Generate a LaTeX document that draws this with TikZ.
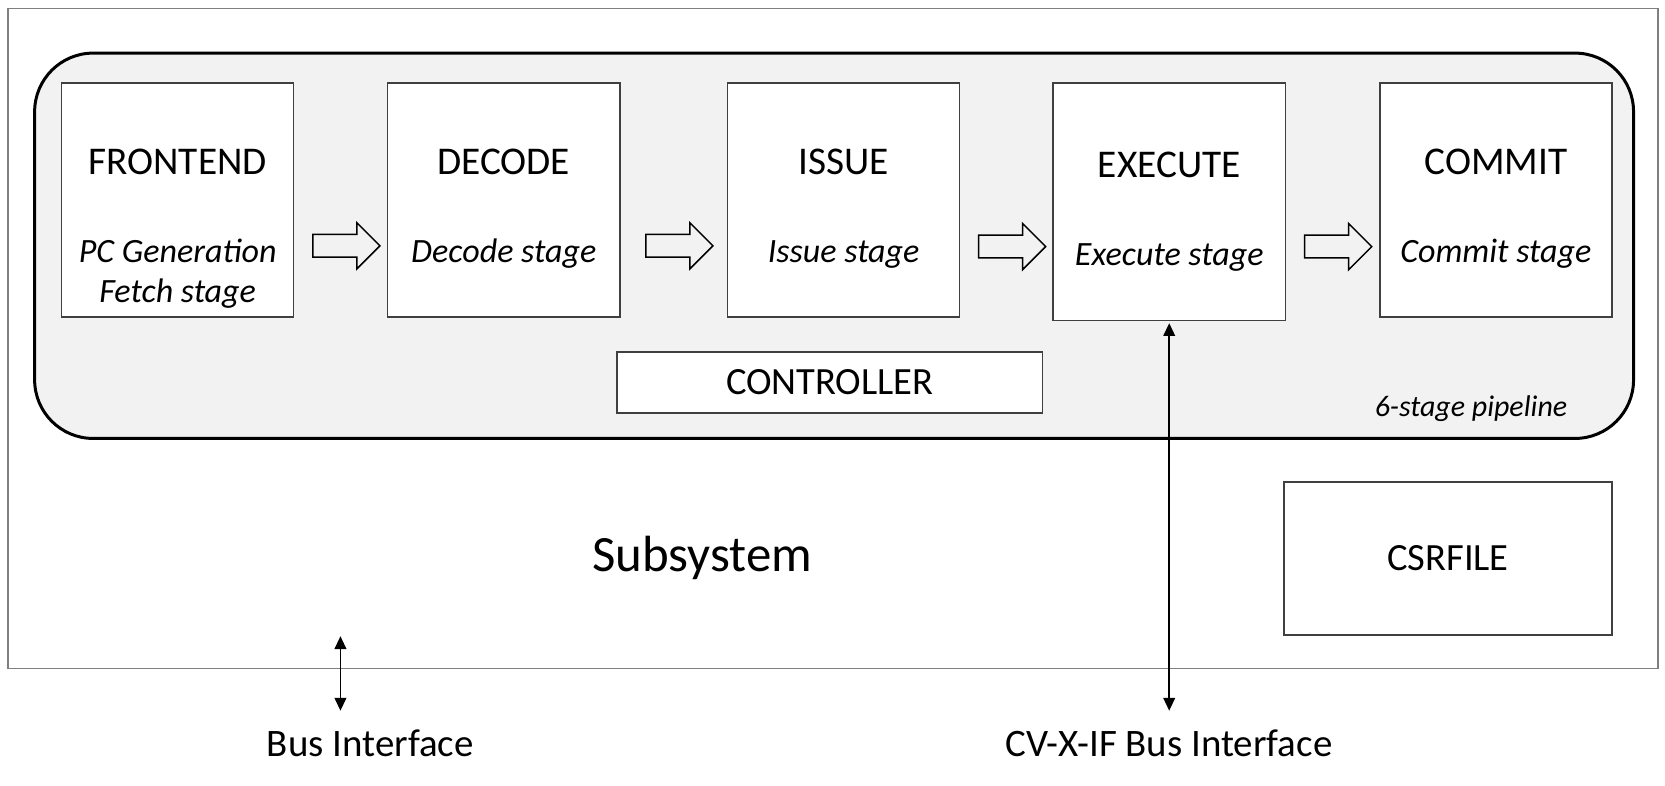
\documentclass[tikz,border=0pt]{standalone}
\usepackage{fontspec}
\setmainfont{Carlito}
\usepackage{tikz}
\usetikzlibrary{positioning,calc,shapes.arrows,arrows.meta}
\definecolor{pipefill}{HTML}{F2F2F2}
\definecolor{boxline}{HTML}{404040}
\definecolor{frameline}{HTML}{7F7F7F}
\tikzset{
  stagebox/.style={draw=boxline, fill=white, inner sep=0pt, minimum width=2.18cm, minimum height=2.2cm},
  stagename/.style={anchor=base, inner sep=0pt, font=\fontsize{10.5}{12}\selectfont},
  stagetext/.style={anchor=base, inner sep=0pt, align=center, font=\fontsize{9.1}{10.8}\selectfont\itshape},
  flow/.style={single arrow, draw=black, fill=pipefill, inner sep=0.1cm, single arrow head extend=0.11cm, minimum height=0.63cm},
  bus/.style={{Triangle[length=0.12cm,width=0.11cm]}-{Triangle[length=0.12cm,width=0.11cm]}, black, line width=0.4pt},
  buslabel/.style={anchor=base, inner sep=0pt, font=\fontsize{10.4}{12}\selectfont}
}

\begin{document}
\begin{tikzpicture}[x=0.01cm, y=-0.01cm]
\useasboundingbox (0,0) rectangle (1565,738);

\node (subsystem) [draw=frameline, fill=white, minimum width=15.5cm, minimum height=6.2cm] at (783,318) {};
\node (pipeline) [draw=black, line width=0.8pt, fill=pipefill, rounded corners=0.55cm, minimum width=15.02cm, minimum height=3.62cm] at (784,231) {};

\node (frontend) [stagebox] at (167,188) {};
\node (decode) [stagebox] at (473.5,188) {};
\node (issue) [stagebox] at (793,188) {};
\node (execute) [stagebox, minimum height=2.23cm] at (1099,189.5) {};
\node (commit) [stagebox] at (1406,188) {};

\node [stagename] at ([yshift=1.345cm]frontend.south) {FRONTEND};
\node [stagetext] at ([yshift=0.14cm]frontend.south) {PC Generation\\Fetch stage};
\node [stagename] at ([yshift=1.345cm]decode.south) {DECODE};
\node [stagetext] at ([yshift=0.52cm]decode.south) {Decode stage};
\node [stagename] at ([yshift=1.345cm]issue.south) {ISSUE};
\node [stagetext] at ([yshift=0.52cm]issue.south) {Issue stage};
\node [stagename] at ([yshift=1.345cm]execute.south) {EXECUTE};
\node [stagetext] at ([yshift=0.52cm]execute.south) {Execute stage};
\node [stagename] at ([yshift=1.345cm]commit.south) {COMMIT};
\node [stagetext] at ([yshift=0.52cm]commit.south) {Commit stage};

\node (flow1) [flow] at ([yshift=-0.43cm]$(frontend.east)!0.5!(decode.west)$) {};
\node (flow2) [flow] at ([yshift=-0.43cm]$(decode.east)!0.5!(issue.west)$) {};
\node (flow3) [flow] at ([yshift=-0.43cm]$(issue.east)!0.5!(execute.west)$) {};
\node (flow4) [flow] at ([yshift=-0.43cm]$(execute.east)!0.5!(commit.west)$) {};

\node (controller) [draw=boxline, fill=white, minimum width=4cm, minimum height=0.57cm, font=\fontsize{10.3}{12}\selectfont] at (780,359.5) {CONTROLLER};
\node (csrfile) [draw=boxline, fill=white, minimum width=3.08cm, minimum height=1.44cm, font=\fontsize{10.3}{12}\selectfont] at (1361,525) {CSRFILE};

\node [anchor=base east, inner sep=0pt, font=\fontsize{8}{10}\selectfont\itshape] at ([xshift=-0.63cm, yshift=0.22cm]pipeline.south east) {6-stage pipeline};
\node [anchor=base, inner sep=0pt, font=\fontsize{13.6}{16}\selectfont] at (660,537) {Subsystem};

\coordinate (busin) at (320,598);
\coordinate (busout) at (320,668);
\coordinate (xifout) at (1099,668);
\draw[bus] (busin) -- (busout);
\draw[bus, shorten <=0.02cm] (execute.south) -- (xifout);

\node [buslabel] at (348,711) {Bus Interface};
\node [buslabel] at (1099,711) {CV-X-IF Bus Interface};

\end{tikzpicture}
\end{document}
